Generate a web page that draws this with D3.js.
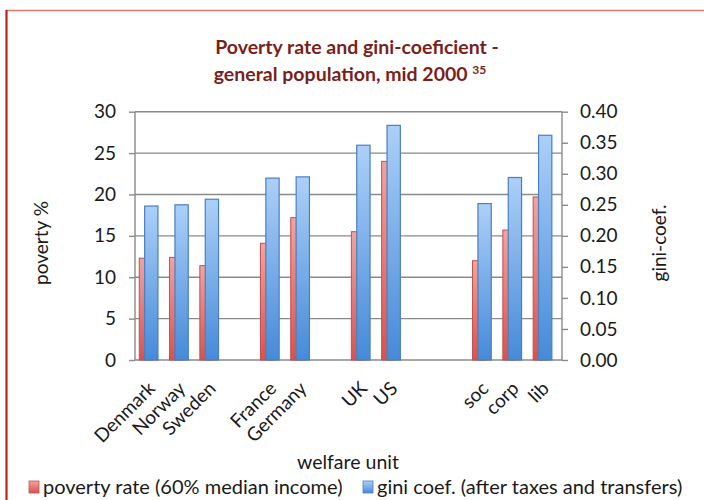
<!DOCTYPE html>
<html>
<head>
<meta charset="utf-8">
<script src="https://cdn.jsdelivr.net/npm/d3@7"></script>
<style>
  html, body { margin: 0; padding: 0; background: #fff; }
  svg { display: block; font-family: Lato, "Open Sans", sans-serif; }
</style>
</head>
<body>
<svg id="chart" width="704" height="500"></svg>
<script>
// Welfare units, in the order drawn along the x axis
const categories = ["Denmark", "Norway", "Sweden", "France", "Germany", "UK", "US", "soc", "corp", "lib"];
// Empty slots inserted before each unit, separating the regime groups
const gapsBefore = [0, 0, 0, 1, 0, 1, 0, 2, 0, 0];
// Poverty rate, % of population under 60% of median income
const povertyRate = [12.3, 12.4, 11.4, 14.1, 17.2, 15.5, 24.0, 12.0, 15.7, 19.7];
// Gini coefficient after taxes and transfers
const giniCoef = [0.248, 0.250, 0.259, 0.293, 0.295, 0.346, 0.378, 0.252, 0.294, 0.362];
// Axis ticks
const povertyTicks = [0, 5, 10, 15, 20, 25, 30];
const giniTicks = [0, 0.05, 0.10, 0.15, 0.20, 0.25, 0.30, 0.35, 0.40];

const svg = d3.select("#chart");
const plot = { left: 135, right: 562, top: 111.7, bottom: 360 };
const ink = "#1a1a1a";
const axisGrey = "#8a8a8a";

// slot domain: category names with blank spacer slots between groups
const slots = [];
categories.forEach((c, i) => {
  for (let g = 0; g < gapsBefore[i]; g++) slots.push("_gap" + i + "_" + g);
  slots.push(c);
});

const x = d3.scaleBand().domain(slots).range([133.5, 557.7]).padding(0);
const yL = d3.scaleLinear().domain([0, 30]).range([plot.bottom, plot.top]);
const yR = d3.scaleLinear().domain([0, 0.4]).range([plot.bottom, plot.top]);

// frame
svg.append("line").attr("x1", 6).attr("x2", 704).attr("y1", 10.5).attr("y2", 10.5)
  .attr("stroke", "#e07a6e").attr("stroke-width", 1.6);
svg.append("line").attr("x1", 6.5).attr("x2", 6.5).attr("y1", 10).attr("y2", 500)
  .attr("stroke", "#b3261e").attr("stroke-width", 2.2);

// gradients
const defs = svg.append("defs");
const gBlue = defs.append("linearGradient").attr("id", "gBlue").attr("x1", 0).attr("x2", 0).attr("y1", 0).attr("y2", 1);
gBlue.append("stop").attr("offset", "0%").attr("stop-color", "#acd0f8");
gBlue.append("stop").attr("offset", "100%").attr("stop-color", "#468ad8");
const gRed = defs.append("linearGradient").attr("id", "gRed").attr("x1", 0).attr("x2", 0).attr("y1", 0).attr("y2", 1);
gRed.append("stop").attr("offset", "0%").attr("stop-color", "#f2a3a0");
gRed.append("stop").attr("offset", "100%").attr("stop-color", "#d9524d");

// title
const title = svg.append("text").attr("text-anchor", "middle")
  .attr("fill", "#7a1f1c").attr("font-weight", "bold").attr("font-size", 19.5);
title.append("tspan").attr("x", 357).attr("y", 54).text("Poverty rate and gini-coeficient -");
title.append("tspan").attr("x", 350).attr("y", 81).text("general population,  mid 2000 ");
title.append("tspan").attr("font-size", 12).attr("dy", -7).text("35");

// gridlines
svg.append("g").selectAll("line").data(povertyTicks).join("line")
  .attr("x1", plot.left).attr("x2", plot.right)
  .attr("y1", d => yL(d)).attr("y2", d => yL(d))
  .attr("stroke", axisGrey).attr("stroke-width", 1.4);

// axes lines
svg.append("line").attr("x1", plot.left).attr("x2", plot.left).attr("y1", plot.top).attr("y2", plot.bottom)
  .attr("stroke", axisGrey).attr("stroke-width", 1.4);
svg.append("line").attr("x1", plot.right).attr("x2", plot.right).attr("y1", plot.top).attr("y2", plot.bottom)
  .attr("stroke", axisGrey).attr("stroke-width", 1.4);

// left axis
const axL = d3.axisLeft(yL).tickValues(povertyTicks).tickSize(6).tickPadding(13).tickFormat(d3.format("d"));
const gL = svg.append("g").attr("transform", `translate(${plot.left},0)`).call(axL);
gL.select(".domain").remove();
gL.selectAll(".tick line").attr("stroke", axisGrey).attr("stroke-width", 1.4);
gL.selectAll(".tick text").attr("font-size", 19).attr("fill", ink).attr("font-family", "Lato, sans-serif");

// right axis
const axR = d3.axisRight(yR).tickValues(giniTicks).tickSize(6).tickPadding(12).tickFormat(d3.format(".2f"));
const gR = svg.append("g").attr("transform", `translate(${plot.right},0)`).call(axR);
gR.select(".domain").remove();
gR.selectAll(".tick line").attr("stroke", axisGrey).attr("stroke-width", 1.4);
gR.selectAll(".tick text").attr("font-size", 19).attr("fill", ink).attr("font-family", "Lato, sans-serif");

// bars
const barW = 13.3;
const cx = c => x(c) + x.bandwidth() / 2;
svg.append("g").selectAll("rect").data(categories).join("rect")
  .attr("x", c => cx(c) - 9.4)
  .attr("width", barW)
  .attr("y", (c, i) => yL(povertyRate[i]))
  .attr("height", (c, i) => yL(0) - yL(povertyRate[i]))
  .attr("fill", "url(#gRed)").attr("stroke", "#c0504d").attr("stroke-width", 1);
svg.append("g").selectAll("rect").data(categories).join("rect")
  .attr("x", c => cx(c) - 4)
  .attr("width", barW)
  .attr("y", (c, i) => yR(giniCoef[i]))
  .attr("height", (c, i) => yR(0) - yR(giniCoef[i]))
  .attr("fill", "url(#gBlue)").attr("stroke", "#4a7fc0").attr("stroke-width", 1.2);

// category labels
svg.append("g").selectAll("text").data(categories).join("text")
  .attr("transform", c => `translate(${cx(c) + 3},${385}) rotate(-45)`)
  .attr("text-anchor", "end").attr("dy", "0.35em")
  .attr("font-size", 19).attr("fill", ink)
  .text(c => c);

// axis titles
svg.append("text").attr("transform", "translate(48,243) rotate(-90)").attr("text-anchor", "middle")
  .attr("font-size", 19).attr("fill", ink).text("poverty %");
svg.append("text").attr("transform", "translate(666,243) rotate(-90)").attr("text-anchor", "middle")
  .attr("font-size", 19).attr("fill", ink).text("gini-coef.");
svg.append("text").attr("x", 348).attr("y", 469).attr("text-anchor", "middle")
  .attr("font-size", 19.5).attr("fill", ink).text("welfare unit");

// legend
const legend = [
  { label: "poverty rate (60% median income)", fill: "url(#gRed)", stroke: "#c0504d", x: 29 },
  { label: "gini coef. (after taxes and transfers)", fill: "url(#gBlue)", stroke: "#4a7fc0", x: 363 }
];
const lg = svg.append("g").selectAll("g").data(legend).join("g")
  .attr("transform", d => `translate(${d.x},481)`);
lg.append("rect").attr("width", 10).attr("height", 12)
  .attr("fill", d => d.fill).attr("stroke", d => d.stroke).attr("stroke-width", 0.8);
lg.append("text").attr("x", 14).attr("y", 12.5)
  .attr("font-size", 20).attr("fill", ink).text(d => d.label);
</script>
</body>
</html>
